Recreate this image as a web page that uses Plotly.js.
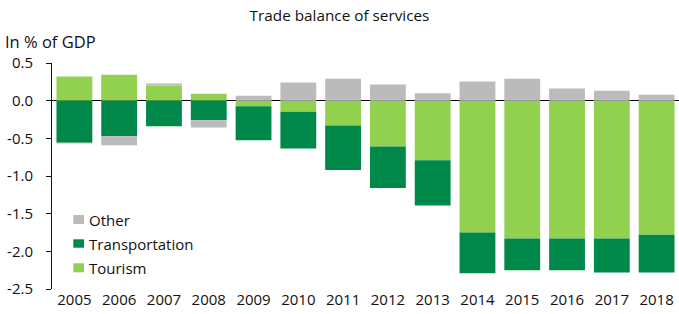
<!DOCTYPE html>
<html><head><meta charset="utf-8">
<script src="https://cdn.plot.ly/plotly-3.0.1.min.js"></script>
<style>html,body{margin:0;padding:0;background:#fff}#c{width:679px;height:314px}</style>
</head><body><div id="c"></div>
<script>
var years = ["2005","2006","2007","2008","2009","2010","2011","2012","2013","2014","2015","2016","2017","2018"];
var tourism = [0.32, 0.345, 0.20, 0.093, -0.075, -0.146, -0.33, -0.61, -0.79, -1.75, -1.83, -1.83, -1.83, -1.78];
var transportation = [-0.56, -0.473, -0.34, -0.26, -0.45, -0.49, -0.59, -0.55, -0.60, -0.54, -0.42, -0.42, -0.45, -0.50];
var other = [-0.01, -0.12, 0.027, -0.095, 0.066, 0.24, 0.29, 0.216, 0.097, 0.256, 0.29, 0.163, 0.133, 0.08];
var seriesNames = ["Tourism", "Transportation", "Other"];
var seriesColors = ["#92D050", "#00884A", "#BBBBBB"];
var yTickVals = [0.5, 0, -0.5, -1, -1.5, -2, -2.5];
var yTickText = ["0.5", "0.0", "-0.5", "-1.0", "-1.5", "-2.0", "-2.5"];

var font = "Open Sans, Noto Sans, sans-serif";
var series = [tourism, transportation, other];
var data = series.map(function(v, i){
  return {type:"bar", name:seriesNames[i], x:years, y:v, marker:{color:seriesColors[i]}};
});

// legend drawn as shapes + text (Other on top, Tourism at bottom)
var legendRows = [
  {i:2, y0:0.2876, y1:0.3274, ty:0.306},
  {i:1, y0:0.1827, y1:0.2199, ty:0.199},
  {i:0, y0:0.0739, y1:0.1137, ty:0.093}
];
var shapes = [], annotations = [];
legendRows.forEach(function(r){
  shapes.push({type:"rect", xref:"paper", yref:"paper", x0:0.034, x1:0.051, y0:r.y0, y1:r.y1, fillcolor:seriesColors[r.i], line:{width:0}});
  annotations.push({text:seriesNames[r.i], xref:"paper", yref:"paper", x:0.0565, y:r.ty, xanchor:"left", yanchor:"middle", showarrow:false, font:{family:font, size:15, color:"#111"}});
});
annotations.push({text:"In % of GDP", xref:"paper", yref:"paper", x:-0.078, y:1.095, xanchor:"left", yanchor:"middle", showarrow:false, font:{family:font, size:16.5, color:"#111"}});

var layout = {
  width:679, height:314,
  margin:{l:52, r:0, t:63, b:25},
  barmode:"relative", bargap:0.2,
  paper_bgcolor:"#fff", plot_bgcolor:"#fff",
  font:{family:font, size:15, color:"#111"},
  title:{text:"Trade balance of services", x:0.5, xanchor:"center", y:0.95, yanchor:"middle", font:{family:font, size:15.3, color:"#111"}},
  showlegend:false,
  xaxis:{type:"category", range:[-0.5,13.5], showline:false, ticks:"", showgrid:false, zeroline:false, tickfont:{family:font, size:15, color:"#111"}},
  yaxis:{range:[-2.5,0.5], tickvals:yTickVals, ticktext:yTickText, showline:true, linecolor:"#111", linewidth:1, ticks:"outside", ticklen:5, tickcolor:"#111", ticklabelstandoff:10, showgrid:false, zeroline:true, zerolinecolor:"#000", zerolinewidth:1, tickfont:{family:font, size:15, color:"#111"}},
  shapes:shapes,
  annotations:annotations
};
Plotly.newPlot("c", data, layout, {displayModeBar:false, staticPlot:true});
</script></body></html>
